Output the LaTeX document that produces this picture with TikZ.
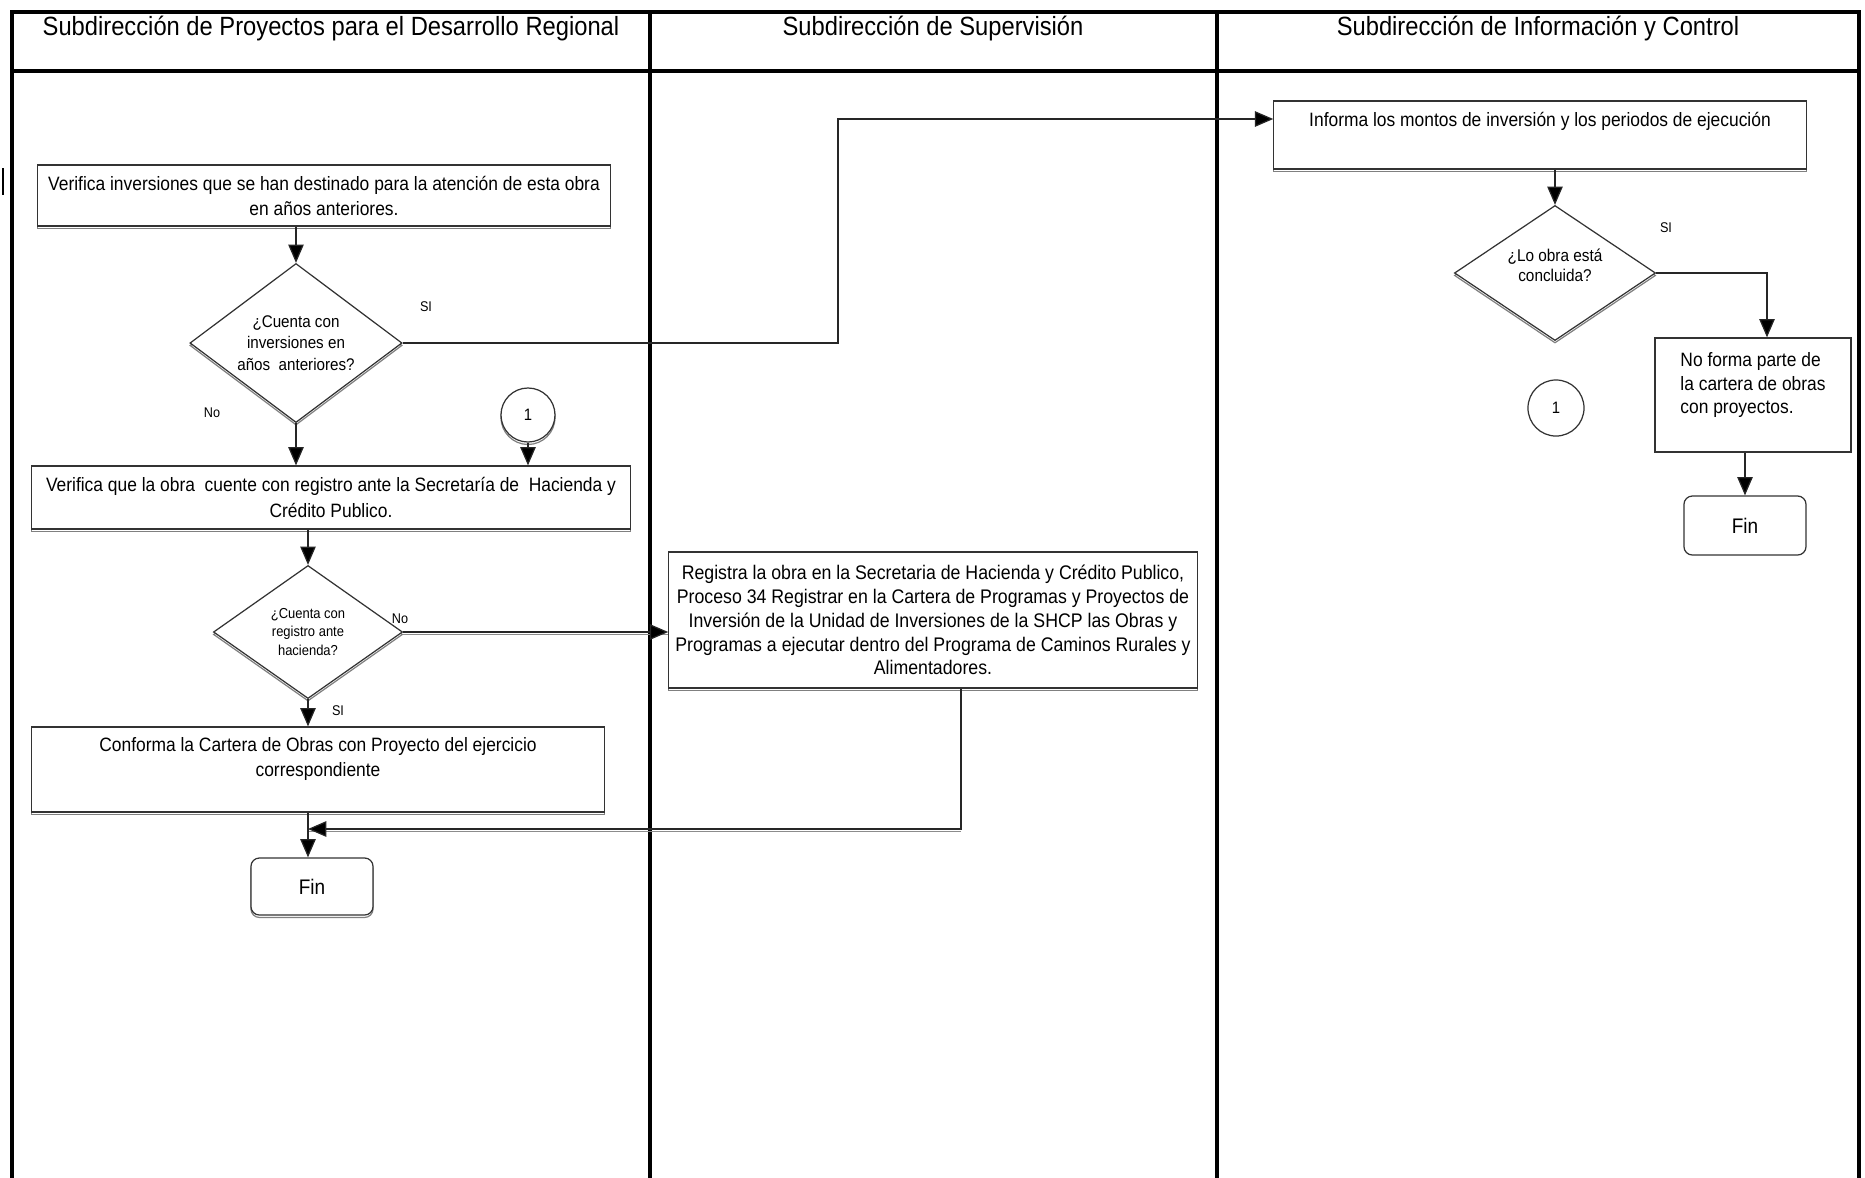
\documentclass[tikz,border=0pt]{standalone}
\usepackage{fontspec}
\setmainfont{Liberation Sans}[FakeStretch=0.9]
\usetikzlibrary{shapes.geometric,arrows.meta,shadows}

\tikzset{
  proc/.style={draw=black!80, fill=white, line width=0.35pt, inner sep=0pt, align=center,
    font=\fontsize{5.5}{7.1}\selectfont},
  dshade/.style={drop shadow={shadow xshift=0pt, shadow yshift=-0.7pt, fill=none, draw=black!50, opacity=1}},
  decision/.style={diamond, draw=black!80, fill=white, line width=0.35pt, inner sep=0pt, align=center},
  finbox/.style={proc, rounded corners=2.4pt, font=\fontsize{6}{7}\selectfont},
  conn/.style={circle, draw=black!80, fill=white, line width=0.35pt, inner sep=0pt, font=\fontsize{4.7}{5}\selectfont},
  lane/.style={font=\fontsize{7.5}{9}\selectfont},
  tag/.style={font=\fontsize{4}{5}\selectfont, inner sep=0pt},
  flow/.style={draw=black!85, line width=0.35pt, -{Triangle[length=5.2pt,width=4.4pt,fill=black]}},
  wire/.style={draw=black!45, line width=0.35pt},
  rule/.style={line width=0.9pt},
}

\begin{document}
\begin{tikzpicture}[x=0.01cm, y=-0.01cm]
\useasboundingbox (0,0) rectangle (1865,1178);
\draw[rule] (12,1178) -- (12,12) -- (1859,12) -- (1859,1178);
\draw[rule] (12,71) -- (1859,71);
\draw[rule] (650,12) -- (650,1178);
\draw[rule] (1217,12) -- (1217,1178);
\draw[line width=0.6pt] (3,168) -- (3,195);

\node[lane] (hdrA) at (331,29) {Subdirección de Proyectos para el Desarrollo Regional};
\node[lane] (hdrB) at (933,29) {Subdirección de Supervisión};
\node[lane] (hdrC) at (1538,29) {Subdirección de Información y Control};

\node[proc, dshade, minimum width=5.72cm, minimum height=0.61cm] (boxA) at (324,195.5)
  {Verifica inversiones que se han destinado para la atención de esta obra\\en años anteriores.};
\node[decision, dshade, aspect=1.33, minimum width=2.12cm, minimum height=1.59cm, font=\fontsize{4.8}{6.1}\selectfont] (d1) at (296,343)
  {¿Cuenta con\\inversiones en\\años~ anteriores?};
\node[conn, dshade, minimum size=0.54cm] (c1a) at (528,415) {1};
\node[proc, dshade, minimum width=5.98cm, minimum height=0.63cm, font=\fontsize{5.5}{7.5}\selectfont] (boxB) at (331,497.5)
  {Verifica que la obra~ cuente con registro ante la Secretaría de~ Hacienda y\\Crédito Publico.};
\node[decision, dshade, aspect=1.42, minimum width=1.89cm, minimum height=1.33cm, font=\fontsize{4.1}{5.3}\selectfont] (d2) at (308,632)
  {¿Cuenta con\\registro ante\\hacienda?};
\node[proc, dshade, minimum width=5.72cm, minimum height=0.85cm] (boxC) at (318,769.5)
  {Conforma la Cartera de Obras con Proyecto del ejercicio\\correspondiente\\\mbox{}};
\node[finbox, dshade, minimum width=1.22cm, minimum height=0.57cm] (finA) at (312,886.5) {Fin};

\node[proc, dshade, minimum width=5.28cm, minimum height=1.36cm, font=\fontsize{5.6}{6.8}\selectfont] (boxR) at (933,620)
  {Registra la obra en la Secretaria de Hacienda y Crédito Publico,\\Proceso 34 Registrar en la Cartera de Programas y Proyectos de\\Inversión de la Unidad de Inversiones de la SHCP las Obras y\\Programas a ejecutar dentro del Programa de Caminos Rurales y\\Alimentadores.};

\node[proc, dshade, minimum width=5.32cm, minimum height=0.68cm] (boxI) at (1540,135)
  {Informa los montos de inversión y los periodos de ejecución\\[2pt]\mbox{}};
\node[decision, dshade, aspect=1.49, minimum width=2.01cm, minimum height=1.35cm, font=\fontsize{4.85}{5.7}\selectfont] (d3) at (1555,273)
  {¿Lo obra está\\concluida?\\[-1.5pt]\mbox{}};
\node[conn, minimum size=0.56cm] (c1b) at (1556,408) {1};
\node[proc, align=left, minimum width=1.96cm, minimum height=1.14cm, font=\fontsize{5.5}{6.8}\selectfont] (boxN) at (1753,395)
  {No forma parte de\\la cartera de obras\\con proyectos.\\\mbox{}};
\node[finbox, minimum width=1.22cm, minimum height=0.59cm] (finB) at (1745,525.5) {Fin};

\node[tag] (si1) at (426,307) {SI};
\node[tag] (no1) at (212,413) {No};
\node[tag] (no2) at (400,619) {No};
\node[tag] (si2) at (338,711) {SI};
\node[tag] (si3) at (1666,228) {SI};

\coordinate (k1) at (838,119);
\coordinate (k2) at (961,829);
\coordinate (k3) at (1767,273);

\draw[wire] ([yshift=-0.7pt]d2.east) -- ([yshift=-0.7pt]d2.east -| boxR.west);
\draw[wire] ([yshift=-0.7pt]k2) -- ([yshift=-0.7pt]k2 -| d2);

\draw[flow] (boxA.south -| d1) -- (d1.north);
\draw[flow] (d1.east) -| (k1) -- (k1 -| boxI.west);
\draw[flow] (d1.south) -- (d1.south |- boxB.north);
\draw[flow] (c1a.south) -- (c1a.south |- boxB.north);
\draw[flow] (boxB.south -| d2) -- (d2.north);
\draw[flow] (d2.east) -- (d2.east -| boxR.west);
\draw[flow] (d2.south) -- (d2.south |- boxC.north);
\draw[flow] (boxC.south -| d2) -- (finA.north -| d2);
\draw[flow] (boxR.south -| k2) -- (k2) -- (k2 -| d2);
\draw[flow] (boxI.south -| d3) -- (d3.north);
\draw[flow] (d3.east) -- (k3) -- (k3 |- boxN.north);
\draw[flow] (boxN.south -| finB) -- (finB.north);
\end{tikzpicture}
\end{document}
